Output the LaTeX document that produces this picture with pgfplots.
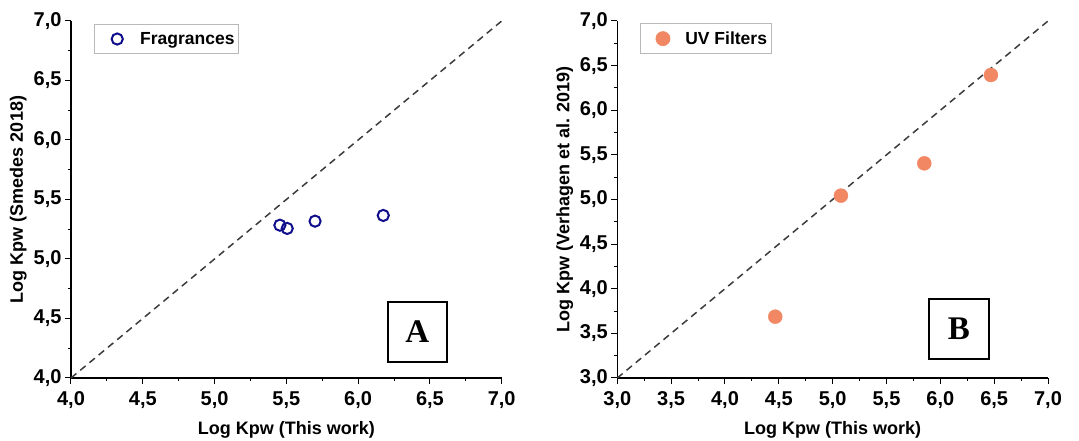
\documentclass[border=0pt]{standalone}
\usepackage{fontspec}
\setmainfont{Liberation Sans}
\newfontfamily\serifbox{Liberation Serif}
\usepackage{pgfplots}
\usepackage{pgfplotstable}
\pgfplotsset{compat=1.18}
\definecolor{navyblue}{RGB}{15,15,140}
\definecolor{uvorange}{RGB}{242,135,100}
\definecolor{dashgray}{RGB}{60,60,60}

\pgfplotstableread{
x y
5.455 5.284
5.506 5.257
5.700 5.318
6.175 5.366
}\fragtable

\pgfplotstableread{
x y
4.467 3.687
5.077 5.043
5.851 5.405
6.470 6.395
}\uvtable

\pgfplotsset{myax/.style={
  scale only axis, width=430.7pt, height=357pt,
  axis x line*=bottom, axis y line*=left,
  axis line style={line width=1.2pt, black},
  tick align=outside, tick style={black, line width=1pt},
  major tick length=6pt, minor tick length=3pt,
  minor tick num=1,
  xtick distance=0.5, ytick distance=0.5,
  tick label style={font=\fontsize{20}{20}\selectfont\bfseries},
  xticklabel style={yshift=-4pt},
  /pgf/number format/.cd, use comma, fixed, fixed zerofill, precision=1, assume math mode=true, /pgfplots/.cd,
  label style={font=\fontsize{18}{18}\selectfont\bfseries},
  xlabel={Log Kpw (This work)},
  xlabel style={yshift=-6pt},
  legend style={draw=gray!55, line width=0.8pt, font=\fontsize{17.5}{17.5}\selectfont\bfseries,
    anchor=north west, inner xsep=2pt, inner ysep=6pt, row sep=0pt},
  legend cell align=left,
  clip=false,
}}
\pgfplotsset{myleg/.style={legend image code/.code={\path (0pt,0pt) (40pt,0pt); \draw[mark repeat=2,mark phase=2,##1] plot coordinates {(0pt,0pt) (20pt,0pt) (40pt,0pt)};}}}

\begin{document}
\begin{tikzpicture}
\path[use as bounding box] (0,0) rectangle (1079pt,441pt);
\begin{axis}[myax, at={(71pt,63pt)}, anchor=south west,
  xmin=4, xmax=7, ymin=4, ymax=7,
  ylabel={Log Kpw (Smedes 2018)},
  legend style={at={(rel axis cs:0.053,0.992)}}]
\addplot[dashgray, line width=1.5pt, dash pattern=on 7pt off 5pt, forget plot] coordinates {(4,4) (7,7)};
\addplot[only marks, mark=o, mark size=5.6pt, navyblue, line width=2pt, myleg] table[x=x,y=y] {\fragtable};
\addlegendentry{Fragrances}
\node[draw, line width=1.5pt, minimum width=59pt, minimum height=60pt, font=\serifbox\fontsize{33}{33}\selectfont\bfseries] at (rel axis cs:0.804,0.129) {A};
\end{axis}
\begin{axis}[myax, at={(617.3pt,63pt)}, anchor=south west,
  xmin=3, xmax=7, ymin=3, ymax=7,
  ylabel={Log Kpw (Verhagen et al. 2019)},
  legend style={at={(rel axis cs:0.053,0.994)}}]
\addplot[dashgray, line width=1.5pt, dash pattern=on 7pt off 5pt, forget plot] coordinates {(3,3) (7,7)};
\addplot[only marks, mark=*, mark size=7pt, draw=uvorange, fill=uvorange, myleg] table[x=x,y=y] {\uvtable};
\addlegendentry{UV Filters}
\node[draw, line width=1.5pt, minimum width=60pt, minimum height=60pt, font=\serifbox\fontsize{33}{33}\selectfont\bfseries] at (rel axis cs:0.793,0.137) {B};
\end{axis}
\end{tikzpicture}
\end{document}
